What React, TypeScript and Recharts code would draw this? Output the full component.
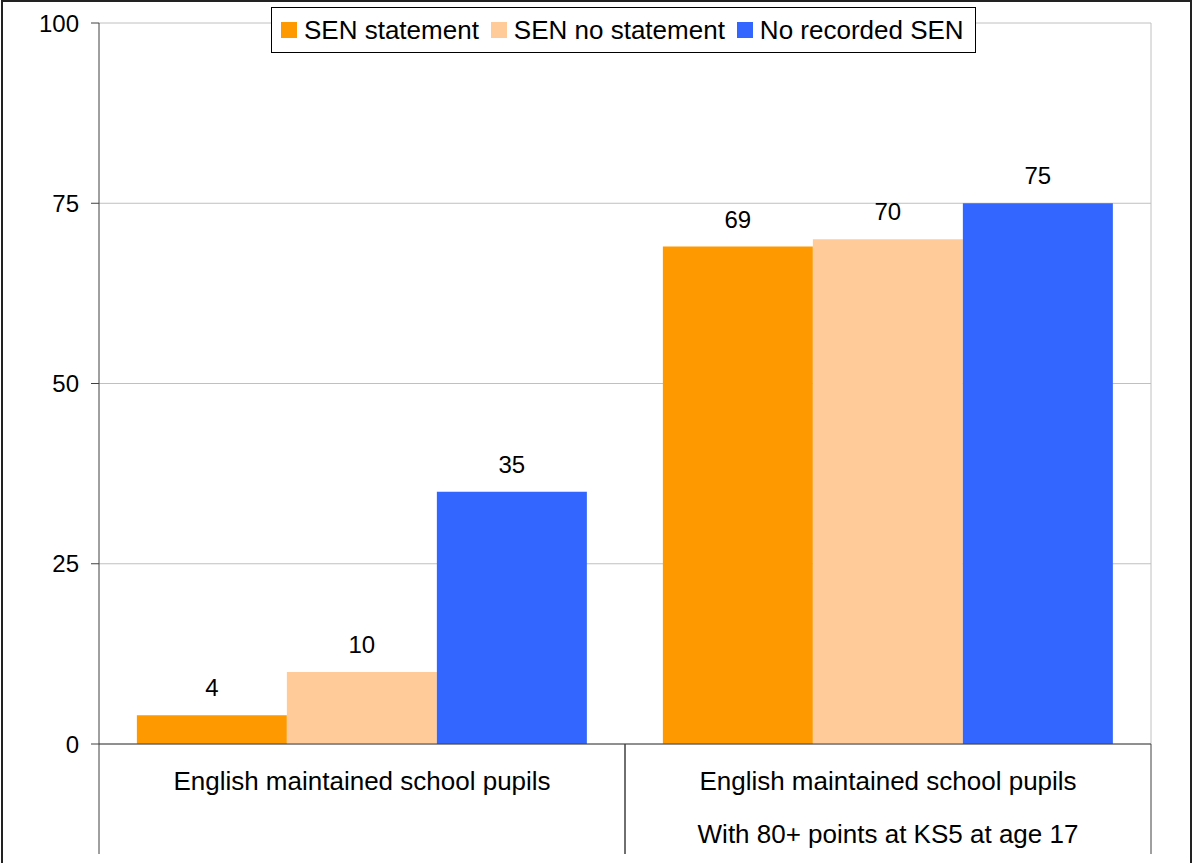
import React from 'react';
import {
  BarChart, Bar, XAxis, YAxis, CartesianGrid, Legend, LabelList,
} from 'recharts';

const FONT = '"Liberation Sans", Arial, sans-serif';

// Category labels, one entry per line
const categoryLines = [
  ['English maintained school pupils'],
  ['English maintained school pupils', 'With 80+ points at KS5 at age 17'],
];

const seriesNames = ['SEN statement', 'SEN no statement', 'No recorded SEN'];
const seriesColors = ['#FF9900', '#FFCC99', '#3366FF'];

const senStatement = [4, 69];
const senNoStatement = [10, 70];
const noRecordedSen = [35, 75];

const yTicks = [0, 25, 50, 75, 100];

const data = categoryLines.map((lines, i) => ({
  name: lines.join('\n'),
  statement: senStatement[i],
  noStatement: senNoStatement[i],
  noSen: noRecordedSen[i],
}));

function CategoryTick(props: any) {
  const { x, y, payload } = props;
  const half = payload?.offset ?? 263;
  const lines = String(payload.value).split('\n');
  return (
    <g>
      <line x1={x - half} x2={x - half} y1={y} y2={y + 110} stroke="#404040" strokeWidth={1} />
      <line x1={x + half} x2={x + half} y1={y} y2={y + 110} stroke="#404040" strokeWidth={1} />
      {lines.map((ln, i) => (
        <text key={i} x={x} y={y + 46 + i * 53} textAnchor="middle" fill="#000"
          fontSize={26} fontFamily={FONT}>
          {ln}
        </text>
      ))}
    </g>
  );
}

// legend drawn in series order from the name/colour arrays
function LegendBox() {
  return (
    <div style={{
      boxSizing: 'border-box', width: 705, height: 46, border: '1px solid #000', background: '#fff',
      display: 'flex', alignItems: 'center', paddingLeft: 9, fontFamily: FONT, fontSize: 26, color: '#000',
      whiteSpace: 'nowrap',
    }}>
      {seriesNames.map((n, i) => (
        <div key={n} style={{ display: 'flex', alignItems: 'center', marginRight: 12, flexShrink: 0 }}>
          <span style={{ width: 16, height: 16, background: seriesColors[i], marginRight: 7, display: 'inline-block', flexShrink: 0 }} />
          <span>{n}</span>
        </div>
      ))}
    </div>
  );
}

export default function App() {
  return (
    <div style={{ position: 'absolute', left: 0, top: 0, width: 1192, height: 863, overflow: 'hidden', background: '#fff' }}>
      <div style={{ position: 'absolute', left: 1, top: 0, width: 1187, height: 880, border: '2px solid #222' }} />
      <div style={{ position: 'absolute', left: 0, top: 0 }}>
        <BarChart
          width={1192}
          height={863}
          data={data}
          margin={{ top: 23, right: 41, bottom: 0, left: 0 }}
          barCategoryGap="7.2%"
          barGap={0}
        >
          <CartesianGrid
            stroke="#c0c0c0"
            verticalCoordinatesGenerator={({ offset }: any) => [offset.left + offset.width]}
          />
          <XAxis
            dataKey="name"
            height={119}
            interval={0}
            axisLine={{ stroke: '#404040' }}
            tickLine={false}
            tickSize={0}
            tickMargin={0}
            tick={<CategoryTick />}
          />
          <YAxis
            domain={[0, 100]}
            ticks={yTicks}
            width={99}
            tickSize={8}
            tickMargin={12}
            axisLine={{ stroke: '#404040' }}
            tickLine={{ stroke: '#404040' }}
            tick={{ fill: '#000', fontSize: 24, fontFamily: FONT }}
          />
          <Legend
            layout="horizontal"
            verticalAlign="middle"
            align="center"
            wrapperStyle={{ top: 7, left: 271, width: 705, height: 46 }}
            content={<LegendBox />}
          />
          <Bar dataKey="statement" name={seriesNames[0]} fill={seriesColors[0]} isAnimationActive={false}>
            <LabelList dataKey="statement" position="top" offset={19} fill="#000" fontSize={24} fontFamily={FONT} />
          </Bar>
          <Bar dataKey="noStatement" name={seriesNames[1]} fill={seriesColors[1]} isAnimationActive={false}>
            <LabelList dataKey="noStatement" position="top" offset={19} fill="#000" fontSize={24} fontFamily={FONT} />
          </Bar>
          <Bar dataKey="noSen" name={seriesNames[2]} fill={seriesColors[2]} isAnimationActive={false}>
            <LabelList dataKey="noSen" position="top" offset={19} fill="#000" fontSize={24} fontFamily={FONT} />
          </Bar>
        </BarChart>
      </div>
    </div>
  );
}
